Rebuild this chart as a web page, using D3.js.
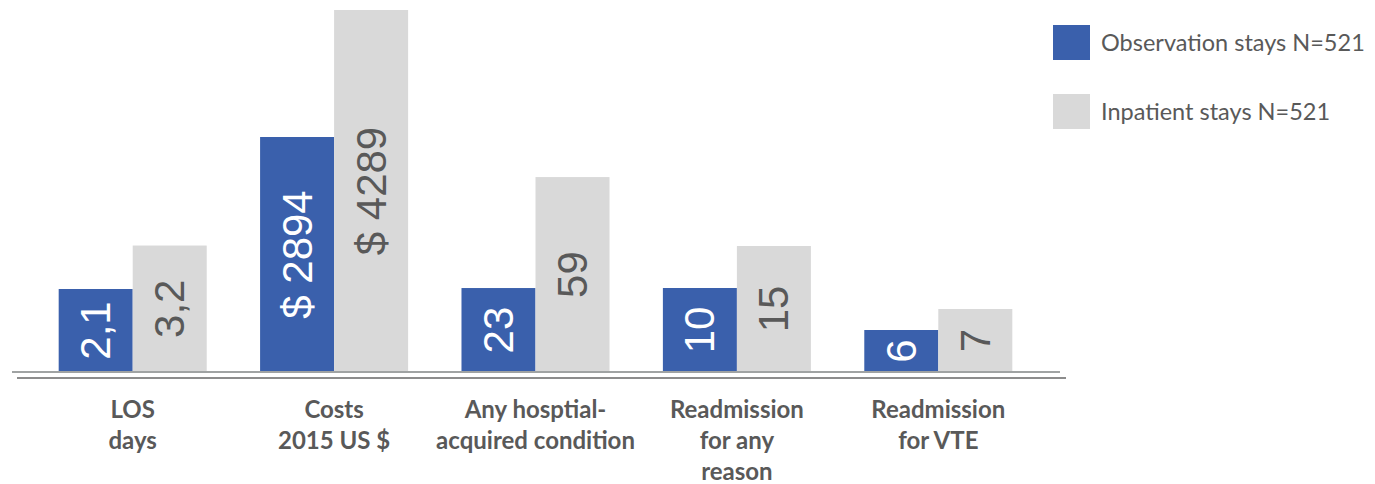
<!DOCTYPE html>
<html>
<head>
<meta charset="utf-8">
<script src="https://cdn.jsdelivr.net/npm/d3@7"></script>
<style>
  body { margin: 0; background: #fff; }
  .value { font-family: "Liberation Sans", Arial, sans-serif; font-size: 42px; }
  .cat { font-family: Lato, "Open Sans", sans-serif; font-weight: bold; font-size: 24px; fill: #595959; }
  .legend text { font-family: Lato, "Open Sans", sans-serif; font-size: 23.5px; fill: #595959; }
</style>
</head>
<body>
<svg id="chart" width="1375" height="484"></svg>
<script>
// categories (each one has its own hidden value scale in the original slide)
var categories = ["LOS", "Costs", "Any", "ReadmAny", "ReadmVTE"];
var categoryLines = [
    ["LOS", "days"],
    ["Costs", "2015 US $"],
    ["Any hosptial-", "acquired condition"],
    ["Readmission", "for any", "reason"],
    ["Readmission", "for VTE"]
];
var series = ["Observation stays N=521", "Inpatient stays N=521"];
var observation = [2.1, 2894, 23, 10, 6];
var inpatient = [3.2, 4289, 59, 15, 7];
var labelPrefix = ["", "$ ", "", "", ""];
// per-category value domains
var domainMin = [0, 313, -4.24, 0, 4];
var domainMax = [9.16, 4289, 113.2, 43.1, 21.24];

function barChart() {
    var svg = d3.select("#chart"),
        margin = { top: 10, bottom: 112 },
        height = +svg.attr("height") - margin.bottom;

    var colors = ["#3a60ac", "#d9d9d9"],
        textColors = ["#ffffff", "#595959"];

    var x = d3.scaleBand()
        .domain(categories)
        .range([32, 1039])
        .paddingInner(0.265)
        .paddingOuter(0.1325);

    var xSub = d3.scaleBand()
        .domain(series)
        .range([0, x.bandwidth()]);

    // one y scale per category
    var yScales = categories.map((c, i) => d3.scaleLinear()
        .domain([domainMin[i], domainMax[i]])
        .range([height, margin.top]));

    var data = [];
    categories.forEach((c, i) => {
        [observation, inpatient].forEach((vals, s) => {
            data.push({ cat: c, idx: i, s: s, name: series[s], value: vals[i] });
        });
    });

    // the two baseline lines
    svg.append("line")
        .attr("x1", 12).attr("x2", 1060)
        .attr("y1", height).attr("y2", height)
        .attr("stroke", "#a0a3a3").attr("stroke-width", 2);
    svg.append("line")
        .attr("x1", 17).attr("x2", 1066)
        .attr("y1", height + 6).attr("y2", height + 6)
        .attr("stroke", "#8c8c8c").attr("stroke-width", 2);

    var bars = svg.selectAll(".bar")
        .data(data)
        .enter().append("g")
        .attr("class", "bar");

    bars.append("rect")
        .attr("x", d => x(d.cat) + xSub(d.name))
        .attr("width", xSub.bandwidth())
        .attr("y", d => yScales[d.idx](d.value))
        .attr("height", d => height - 1 - yScales[d.idx](d.value))
        .attr("fill", d => colors[d.s]);

    bars.append("text")
        .attr("class", "value")
        .attr("transform", d => {
            var cx = x(d.cat) + xSub(d.name) + xSub.bandwidth() / 2,
                cy = (yScales[d.idx](d.value) + height) / 2;
            return "translate(" + cx + "," + cy + ") rotate(-90)";
        })
        .attr("text-anchor", "middle")
        .attr("dominant-baseline", "central")
        .attr("fill", d => textColors[d.s])
        .text(d => labelPrefix[d.idx] + String(d.value).replace(".", ","));

    // category labels
    var cats = svg.selectAll(".cat")
        .data(categories)
        .enter().append("text")
        .attr("class", "cat")
        .attr("text-anchor", "middle")
        .attr("transform", d => "translate(" + (x(d) + x.bandwidth() / 2) + "," + (height + 46) + ")");

    cats.selectAll("tspan")
        .data((d, i) => categoryLines[i])
        .enter().append("tspan")
        .attr("x", 0)
        .attr("y", (d, i) => i * 31)
        .text(d => d);

    // legend
    var legend = svg.append("g")
        .attr("class", "legend")
        .attr("transform", "translate(1053,25)");

    var items = legend.selectAll("g")
        .data(series)
        .enter().append("g")
        .attr("transform", (d, i) => "translate(0," + (i * 69) + ")");

    items.append("rect")
        .attr("width", 37)
        .attr("height", 35)
        .attr("fill", (d, i) => colors[i]);

    items.append("text")
        .attr("x", 48)
        .attr("y", 26)
        .text(d => d);
}

barChart();
</script>
</body>
</html>
